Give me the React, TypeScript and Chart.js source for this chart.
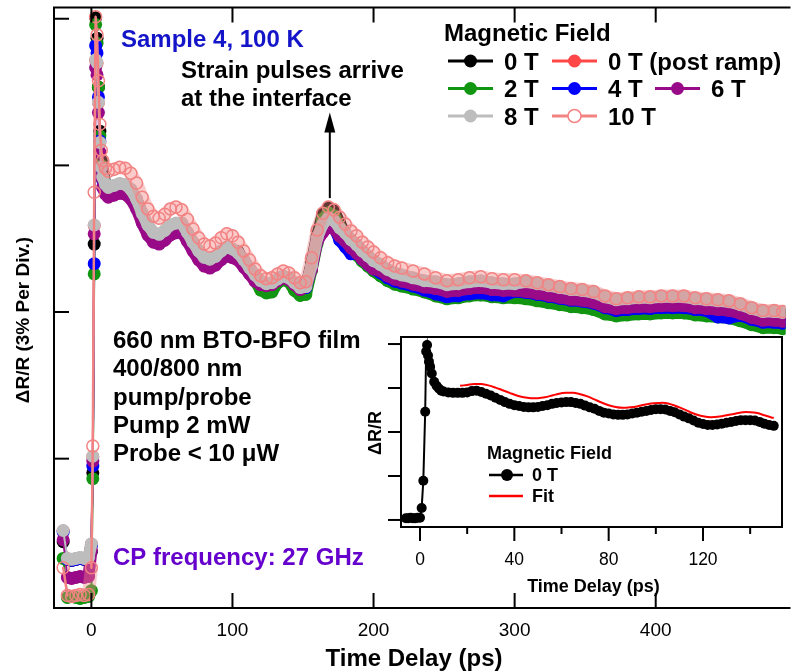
import React, { useEffect, useRef } from 'react';
import { Chart, registerables } from 'chart.js';

Chart.register(...registerables);

const FONT = "'Liberation Sans', Arial, Helvetica, sans-serif";

// ---------- main chart data (time delay in ps, dR/R in %) ----------
const mainTimes = [-20, -17, -14, -11, -8, -5, -2, 0, 1, 2, 3, 4, 5, 6, 7, 8, 10, 12, 16, 20, 24, 28, 32, 36, 40, 44, 48, 52, 56, 60, 64, 68, 72, 76, 80, 84, 88, 92, 96, 100, 104, 108, 112, 116, 120, 124, 128, 132, 136, 140, 144, 148, 152, 156, 160, 164, 168, 172, 176, 180, 184, 188, 192, 196, 200, 205, 210, 215, 220, 228, 236, 244, 252, 260, 268, 276, 284, 292, 300, 308, 316, 324, 332, 340, 348, 356, 364, 372, 380, 388, 396, 404, 412, 420, 428, 436, 444, 452, 460, 468, 476, 484, 490];

const field0T = [1.30, 0.94, 0.92, 0.94, 0.96, 0.94, 0.96,
  1.10, 2.71, 7.39, 12.02, 11.60, 10.60, 9.70, 9.10, 8.90,
  8.59, 8.53,
  8.57, 8.61, 8.59, 8.49, 8.29, 8.00, 7.76, 7.61, 7.57, 7.65, 7.76, 7.80,
  7.80, 7.61, 7.41, 7.23, 7.10, 7.06, 7.12, 7.23, 7.31, 7.27,
  7.23, 7.05, 6.87, 6.68,
  6.62, 6.56, 6.58, 6.66, 6.72, 6.68, 6.58, 6.48, 6.50,
  6.99, 7.56,
  8.00, 8.13, 8.07, 7.82,
  7.60, 7.46, 7.36, 7.23, 7.13,
  7.03, 6.95, 6.85, 6.78, 6.74,
  6.68, 6.62,
  6.60, 6.54, 6.56, 6.60, 6.62, 6.58, 6.56, 6.56, 6.58, 6.54, 6.50, 6.46, 6.42, 6.40, 6.36, 6.27,
  6.21, 6.23, 6.25, 6.25, 6.27, 6.27, 6.27, 6.23, 6.21, 6.19, 6.17, 6.11, 6.03, 5.97, 5.97,
  5.95];

const field0TPostRamp = [1.52, 0.95, 0.93, 0.95, 0.97, 0.95, 0.97,
  1.25, 3.04, 7.77, 11.15, 11.09, 10.28, 9.46, 8.95, 8.75,
  8.60, 8.54,
  8.58, 8.62, 8.60, 8.50, 8.30, 8.01, 7.77, 7.62, 7.58, 7.66, 7.77, 7.81,
  7.81, 7.62, 7.42, 7.24, 7.11, 7.07, 7.13, 7.24, 7.32, 7.28,
  7.20, 7.06, 6.90, 6.75,
  6.63, 6.57, 6.59, 6.67, 6.73, 6.69, 6.59, 6.49, 6.51,
  6.94, 7.51,
  7.79, 7.92, 7.86, 7.71,
  7.61, 7.47, 7.37, 7.24, 7.14,
  7.04, 6.96, 6.86, 6.79, 6.75,
  6.69, 6.63,
  6.61, 6.55, 6.57, 6.61, 6.63, 6.59, 6.57, 6.57, 6.61, 6.57, 6.53, 6.49, 6.45, 6.43, 6.39, 6.30,
  6.24, 6.26, 6.28, 6.28, 6.30, 6.30, 6.30, 6.26, 6.24, 6.22, 6.20, 6.14, 6.06, 6.00, 6.00,
  5.98];

const field2T = [0.96, 0.16, 0.18, 0.16, 0.14, 0.16, 0.18,
  0.30, 2.59, 6.78, 11.88, 11.50, 10.60, 9.60, 9.00, 8.70,
  8.57, 8.51,
  8.55, 8.59, 8.57, 8.47, 8.27, 7.98, 7.74, 7.59, 7.55, 7.63, 7.74, 7.78,
  7.78, 7.59, 7.39, 7.21, 7.08, 7.04, 7.10, 7.21, 7.29, 7.25,
  7.19, 7.01, 6.83, 6.64,
  6.45, 6.39, 6.41, 6.60, 6.66, 6.62, 6.44, 6.34, 6.36,
  6.85, 7.40,
  7.90, 8.03, 7.97, 7.74,
  7.41, 7.27, 7.17, 7.04, 6.94,
  6.84, 6.74, 6.64, 6.57, 6.53,
  6.47, 6.41,
  6.33, 6.27, 6.29, 6.33, 6.35, 6.31, 6.29, 6.29, 6.27, 6.23, 6.19, 6.15, 6.11, 6.09, 6.05, 5.96,
  5.92, 5.94, 5.96, 5.96, 5.98, 5.98, 5.98, 5.94, 5.92, 5.90, 5.88, 5.82, 5.74, 5.68, 5.68,
  5.66];

const field4T = [1.50, 0.94, 0.92, 0.94, 0.96, 0.94, 0.96,
  1.22, 2.85, 6.99, 11.45, 11.30, 10.40, 9.50, 8.95, 8.70,
  8.53, 8.47,
  8.51, 8.55, 8.53, 8.43, 8.23, 7.94, 7.70, 7.55, 7.51, 7.59, 7.70, 7.74,
  7.74, 7.55, 7.35, 7.17, 7.04, 7.00, 7.06, 7.17, 7.25, 7.21,
  7.21, 7.03, 6.85, 6.66,
  6.62, 6.56, 6.58, 6.66, 6.72, 6.68, 6.58, 6.48, 6.50,
  6.91, 7.48,
  7.67, 7.80, 7.74, 7.47,
  7.33, 7.19, 7.21, 7.08, 6.98,
  6.88, 6.80, 6.70, 6.63, 6.59,
  6.53, 6.45,
  6.37, 6.31, 6.33, 6.37, 6.39, 6.35, 6.33, 6.42, 6.40, 6.36, 6.32, 6.28, 6.24, 6.22, 6.18, 6.09,
  6.03, 6.05, 6.07, 6.07, 6.09, 6.09, 6.09, 6.05, 6.03, 5.90, 5.88, 5.93, 5.85, 5.79, 5.79,
  5.77];

const field6T = [1.34, 0.57, 0.55, 0.57, 0.59, 0.57, 0.59,
  1.12, 2.95, 7.60, 11.00, 10.85, 10.08, 9.27, 8.76, 8.55,
  8.41, 8.35,
  8.39, 8.43, 8.41, 8.31, 8.11, 7.82, 7.58, 7.43, 7.39, 7.47, 7.58, 7.62,
  7.64, 7.45, 7.25, 7.07, 6.94, 6.90, 6.96, 7.07, 7.15, 7.11,
  7.06, 6.92, 6.78, 6.63,
  6.56, 6.54, 6.56, 6.64, 6.70, 6.66, 6.56, 6.46, 6.52,
  6.87, 7.44,
  7.63, 7.76, 7.70, 7.55,
  7.45, 7.31, 7.21, 7.08, 6.98,
  6.88, 6.84, 6.74, 6.67, 6.63,
  6.57, 6.51,
  6.48, 6.42, 6.44, 6.48, 6.50, 6.46, 6.44, 6.44, 6.42, 6.38, 6.34, 6.30, 6.26, 6.24, 6.20, 6.11,
  6.07, 6.09, 6.11, 6.11, 6.13, 6.13, 6.13, 6.09, 6.07, 6.05, 6.03, 5.97, 5.89, 5.83, 5.83,
  5.81];

const field8T = [1.53, 0.96, 0.94, 0.96, 0.98, 0.96, 0.98,
  1.26, 3.05, 7.78, 11.16, 11.10, 10.29, 9.47, 8.96, 8.76,
  8.61, 8.55,
  8.59, 8.63, 8.61, 8.51, 8.31, 8.02, 7.78, 7.63, 7.59, 7.67, 7.78, 7.82,
  7.82, 7.63, 7.43, 7.25, 7.12, 7.08, 7.14, 7.25, 7.33, 7.29,
  7.21, 7.07, 6.91, 6.76,
  6.64, 6.58, 6.60, 6.68, 6.74, 6.70, 6.60, 6.50, 6.52,
  6.95, 7.52,
  7.80, 7.93, 7.87, 7.72,
  7.62, 7.48, 7.38, 7.25, 7.15,
  7.05, 6.97, 6.87, 6.80, 6.76,
  6.70, 6.64,
  6.62, 6.56, 6.58, 6.62, 6.64, 6.60, 6.58, 6.58, 6.62, 6.58, 6.54, 6.50, 6.46, 6.44, 6.40, 6.31,
  6.25, 6.27, 6.29, 6.29, 6.31, 6.31, 6.31, 6.27, 6.25, 6.23, 6.21, 6.15, 6.07, 6.01, 6.01,
  5.99];

const field10T = [0.77, 0.20, 0.18, 0.20, 0.22, 0.20, 0.22,
  0.77, 3.26, 8.45, 12.04, 11.67, 10.73, 9.84, 9.31, 9.10,
  8.94, 8.88,
  8.92, 8.96, 8.94, 8.84, 8.64, 8.35, 8.11, 7.96, 7.92, 8.00, 8.11, 8.15,
  8.09, 7.90, 7.70, 7.52, 7.39, 7.35, 7.41, 7.52, 7.60, 7.56,
  7.43, 7.25, 7.07, 6.88,
  6.74, 6.68, 6.70, 6.78, 6.84, 6.80, 6.70, 6.60, 6.62,
  7.11, 7.68,
  8.02, 8.15, 8.09, 7.94,
  7.80, 7.66, 7.56, 7.43, 7.33,
  7.23, 7.11, 7.01, 6.94, 6.90,
  6.84, 6.78,
  6.70, 6.64, 6.66, 6.70, 6.72, 6.68, 6.66, 6.66, 6.64, 6.60, 6.56, 6.52, 6.48, 6.46, 6.42, 6.33,
  6.27, 6.29, 6.31, 6.31, 6.33, 6.33, 6.33, 6.29, 6.27, 6.25, 6.23, 6.17, 6.09, 6.03, 6.03,
  6.01];

const mainXTicks = [0, 100, 200, 300, 400];
const mainYTicks = [3, 6, 9, 12];

// arrow marking arrival of strain pulses (time in ps, values in %)
const arrowTime = 169;
const arrowTail = 8.33;
const arrowTip = 10.08;

const infoLines = ['660 nm BTO-BFO film', '400/800 nm', 'pump/probe', 'Pump 2 mW', 'Probe < 10 \u03bcW'];

// ---------- inset data ----------
const insetTimes = [-6, -5, -4, -3, -2, -1, 0, 0.7, 1.4, 2.2, 2.6, 3.0, 3.4, 3.8, 4.3, 5, 6, 7, 8, 9, 10, 12, 14, 16, 18, 20, 22, 24, 26, 28, 30, 32, 34, 36, 38, 40, 42, 44, 46, 48, 50, 52, 54, 56, 58, 60, 62, 64, 66, 68, 70, 72, 74, 76, 78, 80, 82, 84, 86, 88, 90, 92, 94, 96, 98, 100, 102, 104, 106, 108, 110, 112, 114, 116, 118, 120, 122, 124, 126, 128, 130, 132, 134, 136, 138, 140, 142, 144, 146, 148, 150];
const insetField0T = [0.04, 0.04, 0.05, 0.04, 0.04, 0.05, 0.05, 0.27, 0.89, 2.46, 3.83, 3.98, 3.74, 3.60, 3.48, 3.33, 3.14, 3.05, 2.99, 2.94, 2.92,
  2.90, 2.89, 2.89, 2.89, 2.90, 2.93, 2.94, 2.91, 2.87, 2.83,
  2.78, 2.73, 2.68, 2.64, 2.61, 2.59, 2.57, 2.56, 2.56, 2.57,
  2.59, 2.61, 2.64, 2.66, 2.67, 2.68, 2.68, 2.66, 2.64, 2.60,
  2.56, 2.53, 2.48, 2.44, 2.42, 2.40, 2.39, 2.39, 2.40, 2.42,
  2.44, 2.46, 2.48, 2.50, 2.52, 2.52, 2.51, 2.48, 2.45, 2.40,
  2.35, 2.31, 2.26, 2.21, 2.18, 2.16, 2.16, 2.17, 2.19, 2.21,
  2.23, 2.25, 2.27, 2.27, 2.27, 2.26, 2.23, 2.19, 2.16, 2.14];
const fitTimes = [17, 20, 23, 26, 29, 32, 35, 38, 41, 44, 47, 50, 53, 56, 59, 62, 65, 68, 71, 74, 77, 80, 83, 86, 89, 92, 95, 98, 101, 104, 107, 110, 113, 116, 119, 122, 125, 128, 131, 134, 137, 140, 143, 146, 149, 150];
const fitValues = [3.05, 3.07, 3.09, 3.09, 3.06, 3.01, 2.95, 2.89, 2.83, 2.79,
  2.77, 2.77, 2.79, 2.83, 2.87, 2.89, 2.89, 2.86, 2.81, 2.74,
  2.67, 2.61, 2.57, 2.55, 2.56, 2.58, 2.62, 2.65, 2.66, 2.66,
  2.62, 2.56, 2.49, 2.42, 2.37, 2.34, 2.34, 2.36, 2.39, 2.42,
  2.45, 2.45, 2.43, 2.38, 2.33, 2.32];
const insetXMajorTicks = [0, 40, 80, 120];
const insetXMinorTicks = [20, 60, 100, 140];
const insetYTicks = [0, 1, 2, 3, 4];

type Series = { label: string; color: string; band: string; values: number[]; open?: boolean; order: number; slot: [number, number] };

const SERIES: Series[] = [
  { label: '0 T', color: '#000000', band: '#000000', values: field0T, order: 5, slot: [0, 0] },
  { label: '0 T (post ramp)', color: '#ff4747', band: '#ff4747', values: field0TPostRamp, order: 6, slot: [1, 0] },
  { label: '2 T', color: '#129612', band: '#129612', values: field2T, order: 4, slot: [0, 1] },
  { label: '4 T', color: '#0000ff', band: '#0000ff', values: field4T, order: 3, slot: [1, 1] },
  { label: '6 T', color: '#990a88', band: '#990a88', values: field6T, order: 2, slot: [2, 1] },
  { label: '8 T', color: '#bdbdbd', band: '#bdbdbd', values: field8T, order: 1, slot: [0, 2] },
  { label: '10 T', color: '#f38282', band: 'rgba(243,130,130,0.42)', values: field10T, open: true, order: 0, slot: [1, 2] },
];

// segments inside the dense parts of the record are drawn as a band, the fast rise stays a thin line
function isDenseSegment(c: any) {
  const t0 = mainTimes[c.p0DataIndex];
  const t1 = mainTimes[c.p1DataIndex];
  return (t0 >= -17 && t1 <= 0) || t0 >= 8;
}

function seg(ctx: CanvasRenderingContext2D, x1: number, y1: number, x2: number, y2: number) {
  ctx.beginPath();
  ctx.moveTo(x1, y1);
  ctx.lineTo(x2, y2);
  ctx.stroke();
}

const mainDecor = {
  id: 'mainDecor',
  afterDatasetsDraw(chart: any) {
    const ctx: CanvasRenderingContext2D = chart.ctx;
    const a = chart.chartArea;
    const xs = chart.scales.x;
    const ys = chart.scales.y;
    ctx.save();
    ctx.strokeStyle = '#000';
    ctx.fillStyle = '#000';
    ctx.lineWidth = 2;
    ctx.lineCap = 'butt';
    ctx.beginPath();
    ctx.moveTo(a.right + 5, a.top);
    ctx.lineTo(a.left, a.top);
    ctx.lineTo(a.left, a.bottom);
    ctx.lineTo(a.right + 5, a.bottom);
    ctx.stroke();
    mainXTicks.forEach((v) => {
      const px = xs.getPixelForValue(v);
      seg(ctx, px, a.bottom, px, a.bottom - 15);
      seg(ctx, px, a.top, px, a.top + 15);
    });
    mainYTicks.forEach((v) => {
      const py = ys.getPixelForValue(v);
      seg(ctx, a.left, py, a.left + 15, py);
    });
    ctx.textBaseline = 'alphabetic';
    ctx.textAlign = 'center';
    ctx.font = `19px ${FONT}`;
    mainXTicks.forEach((v) => ctx.fillText(String(v), xs.getPixelForValue(v), a.bottom + 28));
    ctx.font = `bold 24px ${FONT}`;
    ctx.fillText('Time Delay (ps)', 414, 666);

    ctx.save();
    ctx.translate(29, 320);
    ctx.rotate(-Math.PI / 2);
    ctx.font = `bold 19px ${FONT}`;
    ctx.fillText('\u0394R/R (3% Per Div.)', 0, 0);
    ctx.restore();

    ctx.textAlign = 'left';
    ctx.font = `bold 24px ${FONT}`;
    ctx.fillStyle = '#1414c8';
    ctx.fillText('Sample 4, 100 K', 121, 47);
    ctx.fillStyle = '#000';
    ctx.fillText('Strain pulses arrive', 181, 78);
    ctx.fillText('at the interface', 181, 106);
    infoLines.forEach((s, i) => ctx.fillText(s, 113, 348 + i * 28.25));
    ctx.fillStyle = '#6600cc';
    ctx.fillText('CP frequency: 27 GHz', 113, 565);

    // arrow
    ctx.fillStyle = '#000';
    const ax = xs.getPixelForValue(arrowTime);
    const yTail = ys.getPixelForValue(arrowTail);
    const yTip = ys.getPixelForValue(arrowTip);
    ctx.lineWidth = 2;
    seg(ctx, ax, yTail, ax, yTip + 16);
    ctx.beginPath();
    ctx.moveTo(ax, yTip);
    ctx.lineTo(ax - 5.5, yTip + 20);
    ctx.lineTo(ax + 5.5, yTip + 20);
    ctx.closePath();
    ctx.fill();

    // legend
    ctx.font = `bold 24px ${FONT}`;
    ctx.fillText('Magnetic Field', 444, 41);
    const colX = [448, 552, 655];
    const rowY = [61, 88.5, 116];
    SERIES.forEach((s) => {
      const x0 = colX[s.slot[0]];
      const y0 = rowY[s.slot[1]];
      ctx.strokeStyle = s.color;
      ctx.lineWidth = 3;
      seg(ctx, x0, y0, x0 + 45, y0);
      ctx.beginPath();
      ctx.arc(x0 + 22.5, y0, 6.5, 0, Math.PI * 2);
      if (s.open) {
        ctx.fillStyle = '#fff';
        ctx.fill();
        ctx.lineWidth = 1.5;
        ctx.stroke();
      } else {
        ctx.fillStyle = s.color;
        ctx.fill();
      }
      ctx.fillStyle = '#000';
      ctx.fillText(s.label, x0 + 56, y0 + 8.5);
    });
    ctx.restore();
  },
};

const insetDecor = {
  id: 'insetDecor',
  beforeDatasetsDraw(chart: any) {
    const ctx: CanvasRenderingContext2D = chart.ctx;
    const a = chart.chartArea;
    ctx.save();
    ctx.fillStyle = '#fff';
    ctx.fillRect(a.left, a.top, a.right - a.left, a.bottom - a.top);
    ctx.restore();
  },
  afterDraw(chart: any) {
    const ctx: CanvasRenderingContext2D = chart.ctx;
    const a = chart.chartArea;
    const xs = chart.scales.x;
    const ys = chart.scales.y;
    ctx.save();
    ctx.strokeStyle = '#000';
    ctx.fillStyle = '#000';
    ctx.lineWidth = 2;
    ctx.strokeRect(a.left, a.top, a.right - a.left, a.bottom - a.top);
    insetYTicks.forEach((v) => {
      const py = ys.getPixelForValue(v);
      seg(ctx, a.left - 13, py, a.left, py);
    });
    insetXMajorTicks.forEach((v) => {
      const px = xs.getPixelForValue(v);
      seg(ctx, px, a.bottom, px, a.bottom + 14);
    });
    insetXMinorTicks.forEach((v) => {
      const px = xs.getPixelForValue(v);
      seg(ctx, px, a.bottom, px, a.bottom + 7);
    });
    ctx.textAlign = 'center';
    ctx.textBaseline = 'alphabetic';
    ctx.font = `17.5px ${FONT}`;
    insetXMajorTicks.forEach((v) => ctx.fillText(String(v), xs.getPixelForValue(v), a.bottom + 38));
    ctx.font = `bold 18px ${FONT}`;
    ctx.fillText('Time Delay (ps)', (a.left + a.right) / 2 + 2, a.bottom + 65);
    ctx.save();
    ctx.translate(21, (a.top + a.bottom) / 2 + 1);
    ctx.rotate(-Math.PI / 2);
    ctx.fillText('\u0394R/R', 0, 0);
    ctx.restore();

    // legend
    ctx.textAlign = 'left';
    ctx.fillText('Magnetic Field', 127, 129);
    ctx.lineWidth = 2.5;
    seg(ctx, 129, 145, 163, 145);
    ctx.beginPath();
    ctx.arc(147, 145, 6, 0, Math.PI * 2);
    ctx.fill();
    ctx.fillText('0 T', 172, 151);
    ctx.strokeStyle = '#ff0000';
    seg(ctx, 129, 166, 163, 166);
    ctx.fillText('Fit', 172, 172);
    ctx.restore();
  },
};

export default function App() {
  const mainRef = useRef<HTMLCanvasElement>(null);
  const insetRef = useRef<HTMLCanvasElement>(null);

  useEffect(() => {
    const main = new Chart(mainRef.current as HTMLCanvasElement, {
      type: 'line',
      data: {
        datasets: SERIES.map((s) => ({
          label: s.label,
          data: mainTimes.map((t, i) => ({ x: t, y: s.values[i] })),
          borderColor: s.color,
          backgroundColor: s.color,
          borderWidth: s.open ? 2.5 : 2,
          borderCapStyle: 'round',
          borderJoinStyle: 'round',
          segment: {
            borderWidth: (c: any) => (isDenseSegment(c) ? (s.open ? 13 : 12) : s.open ? 2.5 : 2),
            borderColor: (c: any) => (isDenseSegment(c) ? s.band : s.color),
          },
          pointRadius: s.open ? 6 : 6.5,
          pointStyle: 'circle',
          pointBackgroundColor: s.open ? 'rgba(0,0,0,0)' : s.color,
          pointBorderColor: s.color,
          pointBorderWidth: s.open ? 1.5 : 0,
          order: s.order,
          tension: 0,
          fill: false,
        })),
      },
      options: {
        animation: false,
        responsive: false,
        maintainAspectRatio: false,
        devicePixelRatio: 1,
        events: [],
        layout: { padding: { left: 54, top: 5, right: 0, bottom: 64 } },
        plugins: { legend: { display: false }, tooltip: { enabled: false } },
        scales: {
          x: { type: 'linear', min: -26.5, max: 492, display: false },
          y: { type: 'linear', min: -0.055, max: 12.23, display: false },
        },
      },
      plugins: [mainDecor],
    } as any);

    const inset = new Chart(insetRef.current as HTMLCanvasElement, {
      type: 'line',
      data: {
        datasets: [
          {
            label: 'Fit',
            data: fitTimes.map((t, i) => ({ x: t, y: fitValues[i] })),
            borderColor: '#ff0000',
            borderWidth: 2,
            pointRadius: 0,
            tension: 0.35,
            order: 0,
            fill: false,
          },
          {
            label: '0 T',
            data: insetTimes.map((t, i) => ({ x: t, y: insetField0T[i] })),
            borderColor: '#000',
            backgroundColor: '#000',
            borderWidth: 2,
            pointRadius: 5,
            pointBackgroundColor: '#000',
            pointBorderWidth: 0,
            tension: 0,
            order: 1,
            fill: false,
          },
        ],
      },
      options: {
        animation: false,
        responsive: false,
        maintainAspectRatio: false,
        devicePixelRatio: 1,
        events: [],
        layout: { padding: { left: 41, top: 7, right: 11, bottom: 83 } },
        plugins: { legend: { display: false }, tooltip: { enabled: false } },
        scales: {
          x: { type: 'linear', min: -8.06, max: 153.5, display: false },
          y: { type: 'linear', min: -0.16, max: 4.16, display: false },
        },
      },
      plugins: [insetDecor],
    } as any);

    return () => {
      main.destroy();
      inset.destroy();
    };
  }, []);

  return (
    <div style={{ position: 'fixed', left: 0, top: 0, width: 793, height: 672, background: '#fff', overflow: 'hidden' }}>
      <canvas ref={mainRef} width={793} height={672} style={{ position: 'absolute', left: 0, top: 0, display: 'block' }} />
      <canvas ref={insetRef} width={433} height={280} style={{ position: 'absolute', left: 360, top: 330, display: 'block' }} />
    </div>
  );
}
